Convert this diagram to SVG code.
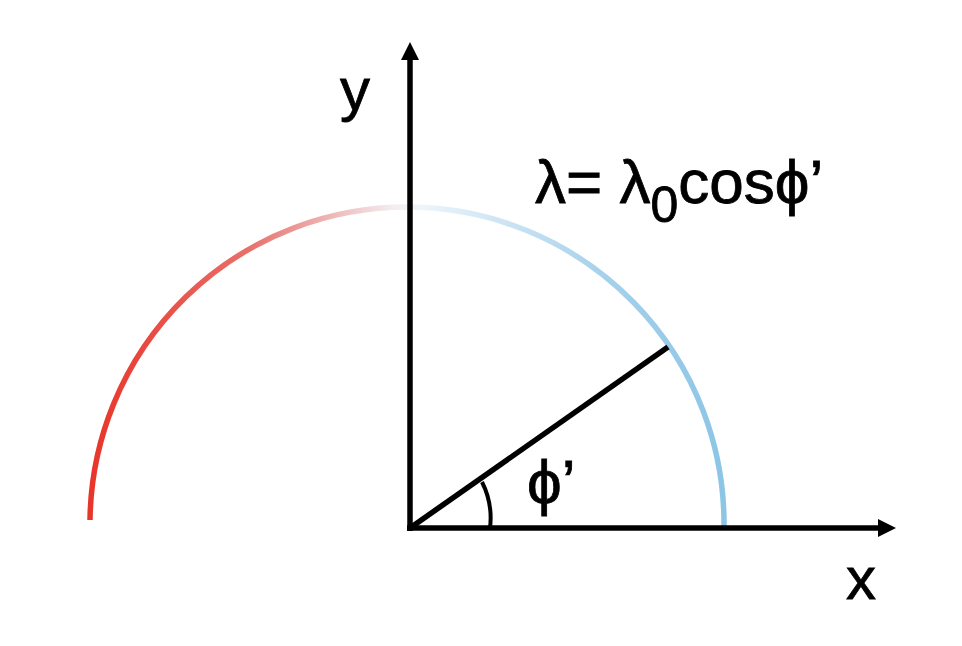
<svg xmlns="http://www.w3.org/2000/svg" width="962" height="646" viewBox="0 0 962 646">
<style>
.ax{stroke:#000;stroke-width:5.5;fill:none}
.t{font-family:"Liberation Sans",Arial,sans-serif;fill:#000;stroke:#000;stroke-width:0.8}
</style>
<defs>
<linearGradient id="g" gradientUnits="userSpaceOnUse" x1="90" y1="0" x2="724" y2="0">
<stop offset="0" stop-color="#e8352a"/>
<stop offset="0.25" stop-color="#e8706a"/>
<stop offset="0.48" stop-color="#f2eef2"/>
<stop offset="0.52" stop-color="#eef5fb"/>
<stop offset="0.8" stop-color="#a8d2ec"/>
<stop offset="1" stop-color="#8cc5e6"/>
</linearGradient>
<marker id="ah" viewBox="0 0 18 18" refX="0" refY="9" markerWidth="18" markerHeight="18" markerUnits="userSpaceOnUse" orient="auto">
<path d="M0,0 L18,9 L0,18 Z" fill="#000"/>
</marker>
</defs>
<g id="arc">
<path d="M90,520 A317,317 0 0 1 724,528" fill="none" stroke="url(#g)" stroke-width="5.5"/>
</g>
<g id="connectors">
<line class="ax" x1="410" y1="531" x2="410" y2="60" marker-end="url(#ah)"/>
<line class="ax" x1="407" y1="528" x2="878" y2="528" marker-end="url(#ah)"/>
<line class="ax" x1="410" y1="528" x2="668" y2="347"/>
<path d="M482,482 A80,80 0 0 1 490,528" fill="none" stroke="#000" stroke-width="4"/>
</g>
<g id="labels">
<text class="t" x="340" y="110" font-size="60">y</text>
<text class="t" x="846" y="599" font-size="60">x</text>
<text class="t" x="527" y="503" font-size="62">ϕ’</text>
<text class="t" x="535" y="203" font-size="62">λ= λ<tspan font-size="50" y="222">0</tspan><tspan y="203">cosϕ’</tspan></text>
</g>
</svg>
